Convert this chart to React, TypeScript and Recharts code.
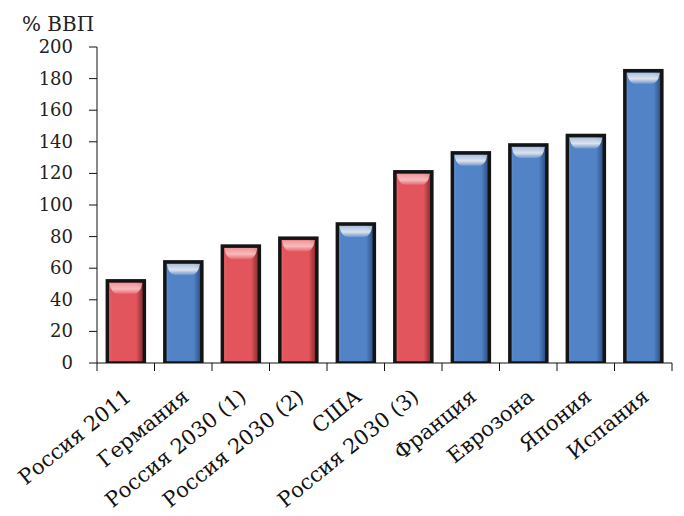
import React from 'react';
import { BarChart, Bar, XAxis, YAxis } from 'recharts';

const categories = [
  'Россия 2011',
  'Германия',
  'Россия 2030 (1)',
  'Россия 2030 (2)',
  'США',
  'Россия 2030 (3)',
  'Франция',
  'Еврозона',
  'Япония',
  'Испания',
];
const debtValues = [52, 64, 74, 79, 88, 121, 133, 138, 144, 185];
const isRussia = [true, false, true, true, false, true, false, false, false, false];
const yTicks = [0, 20, 40, 60, 80, 100, 120, 140, 160, 180, 200];
const unitLabel = '% ВВП';

const data = categories.map((name, i) => ({ name, value: debtValues[i], russia: isRussia[i] }));

const FONT = "'DejaVu Serif', 'Liberation Serif', serif";

const palette = {
  red: { light: '#ef6a70', base: '#e2555c', dark: '#a83a40', deep: '#7a282c', hl: '#f9c0c2' },
  blue: { light: '#6393d6', base: '#5283c6', dark: '#3a629c', deep: '#27446e', hl: '#e4e8ee' },
};

const GlossyBar = (props: any) => {
  const { x, y, width, height, payload, index } = props;
  if (!height || height <= 0) return null;
  const c = payload.russia ? palette.red : palette.blue;
  const gid = `bar-grad-${index}`;
  const hid = `bar-hl-${index}`;
  const inset = 2;
  const hlH = Math.min(11, height / 3);
  const hlPath = `M${x + inset},${y + inset} L${x + width - inset},${y + inset} ` +
    `Q${x + width - inset - 2},${y + inset + hlH} ${x + width - inset - 8},${y + inset + hlH} ` +
    `L${x + inset + 8},${y + inset + hlH} Q${x + inset + 2},${y + inset + hlH} ${x + inset},${y + inset} Z`;
  return (
    <g>
      <defs>
        <linearGradient id={gid} x1="0" y1="0" x2="1" y2="0">
          <stop offset="0%" stopColor={c.light} />
          <stop offset="12%" stopColor={c.base} />
          <stop offset="78%" stopColor={c.base} />
          <stop offset="90%" stopColor={c.dark} />
          <stop offset="100%" stopColor={c.deep} />
        </linearGradient>
        <linearGradient id={hid} x1="0" y1="0" x2="0" y2="1">
          <stop offset="0%" stopColor={c.hl} stopOpacity={0.6} />
          <stop offset="55%" stopColor={c.hl} stopOpacity={0.95} />
          <stop offset="100%" stopColor={c.hl} stopOpacity={0.2} />
        </linearGradient>
      </defs>
      <rect x={x} y={y} width={width} height={height} fill={`url(#${gid})`} />
      <path d={hlPath} fill={`url(#${hid})`} />
      <rect
        x={x}
        y={y}
        width={width}
        height={height}
        fill="none"
        stroke="#141414"
        strokeWidth={3.5}
      />
    </g>
  );
};

const CategoryTick = (props: any) => {
  const { x, y, payload, index, visibleTicksCount } = props;
  const half = payload && typeof payload.offset === 'number' ? payload.offset : 0;
  const left = x - half;
  const right = x + half;
  const isLast = index === visibleTicksCount - 1;
  const tx = x + 7;
  const ty = y + 28;
  return (
    <g>
      <line x1={left} y1={y - 8} x2={left} y2={y} stroke="#111" strokeWidth={1} />
      {isLast && <line x1={right} y1={y - 8} x2={right} y2={y} stroke="#111" strokeWidth={1} />}
      <text
        x={tx}
        y={ty}
        textAnchor="end"
        style={{ fontFamily: FONT, fontSize: 21 }}
        fill="#111"
        transform={`rotate(-39, ${tx}, ${ty})`}
      >
        {payload.value}
      </text>
    </g>
  );
};

const ValueTick = (props: any) => {
  const { x, y, payload } = props;
  return (
    <text
      x={x}
      y={y}
      dy={6}
      textAnchor="end"
      style={{ fontFamily: FONT, fontSize: 18 }}
      fill="#222"
    >
      {payload.value}
    </text>
  );
};

export default function App() {
  return (
    <div style={{ position: 'relative', width: 668, height: 508, background: '#fff' }}>
      <svg
        width={120}
        height={36}
        style={{ position: 'absolute', left: 0, top: 0 }}
      >
        <text x={14} y={23} style={{ fontFamily: FONT, fontSize: 20 }} fill="#222">
          {unitLabel}
        </text>
      </svg>
      <BarChart
        width={668}
        height={508}
        data={data}
        margin={{ top: 39, right: 4, bottom: 0, left: 9 }}
        barCategoryGap="18%"
      >
        <XAxis
          dataKey="name"
          type="category"
          interval={0}
          height={153}
          tickSize={8}
          tickMargin={0}
          tickLine={false}
          axisLine={{ stroke: '#111', strokeWidth: 1 }}
          tick={<CategoryTick />}
        />
        <YAxis
          domain={[0, 200]}
          ticks={yTicks}
          width={80}
          tickSize={8}
          tickMargin={16}
          axisLine={{ stroke: '#111', strokeWidth: 1 }}
          tickLine={{ stroke: '#111', strokeWidth: 1 }}
          tick={<ValueTick />}
          allowDataOverflow
        />
        <Bar dataKey="value" shape={<GlossyBar />} isAnimationActive={false} />
      </BarChart>
    </div>
  );
}
